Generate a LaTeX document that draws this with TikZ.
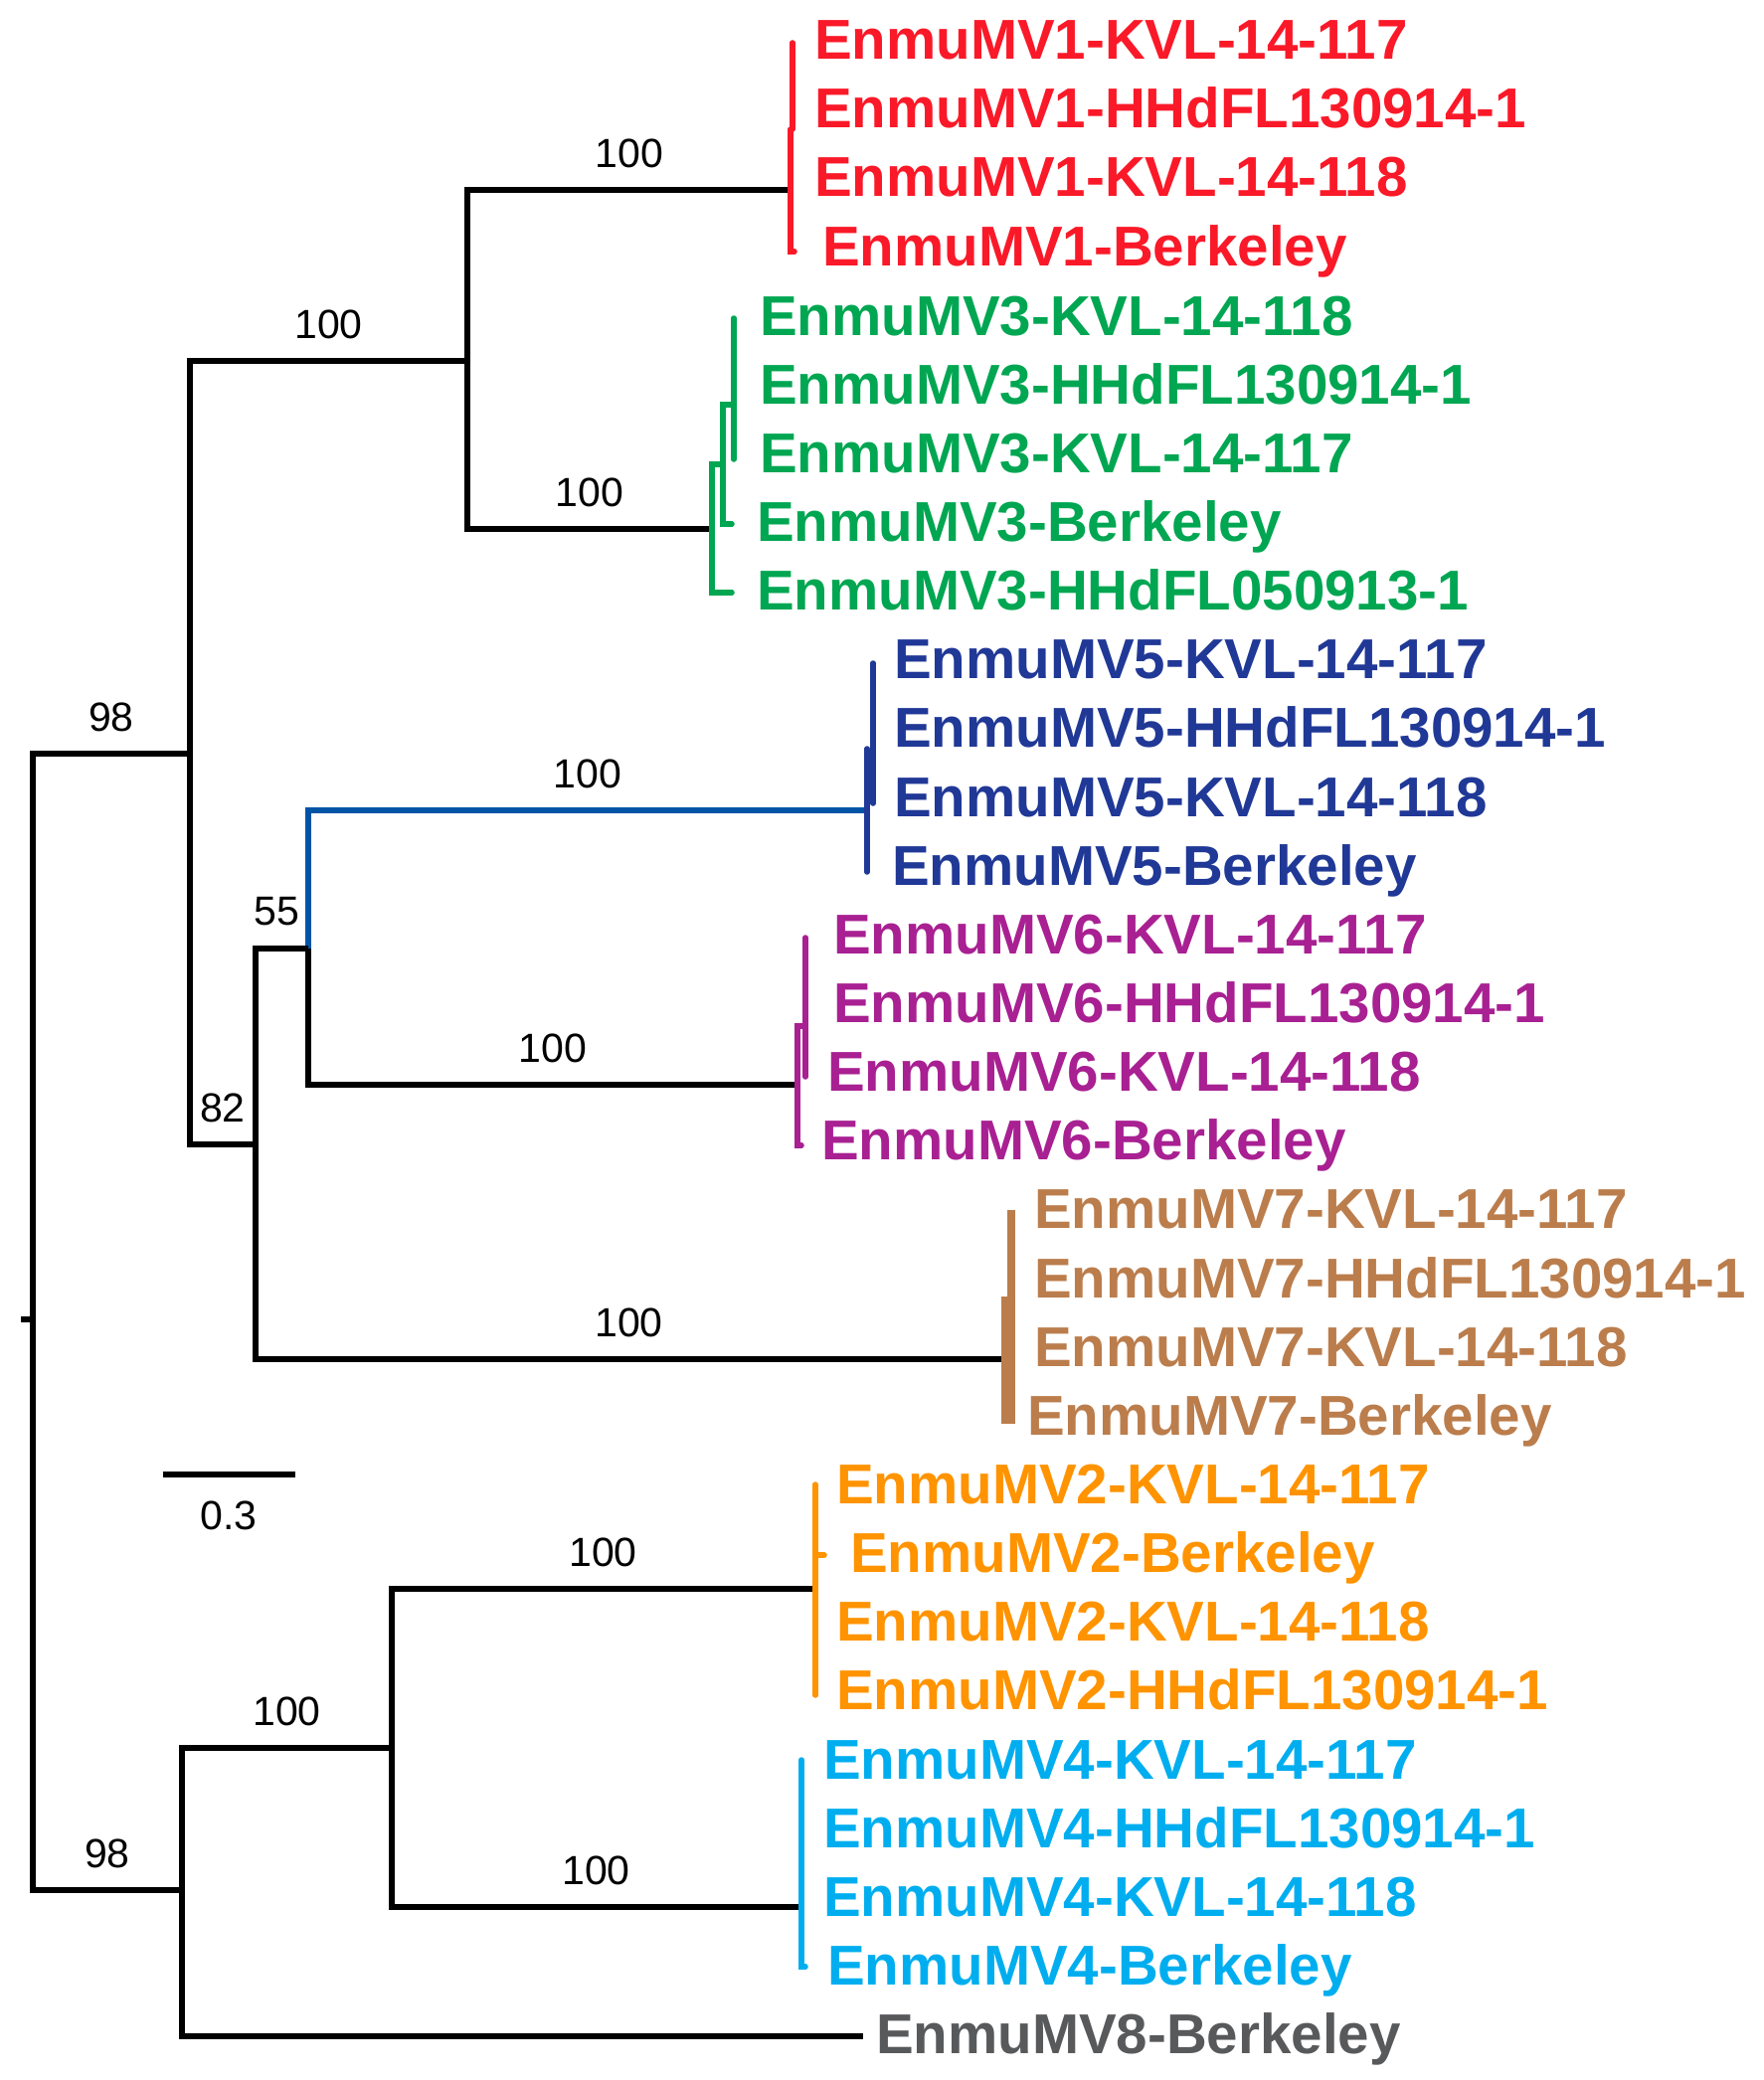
\documentclass[tikz,border=0pt]{standalone}
\usepackage{fontspec}
\setmainfont{Liberation Sans}
\definecolor{cred}{RGB}{250,25,40}
\definecolor{cgreen}{RGB}{0,166,81}
\definecolor{cnavy}{RGB}{32,56,150}
\definecolor{cblue}{RGB}{0,84,166}
\definecolor{cpurple}{RGB}{168,32,146}
\definecolor{cbrown}{RGB}{187,125,76}
\definecolor{corange}{RGB}{255,147,0}
\definecolor{ccyan}{RGB}{0,174,239}
\definecolor{cgrey}{RGB}{88,89,91}
\begin{document}
\begin{tikzpicture}[x=1pt,y=-1pt,
  br/.style={line width=5.5pt, line join=miter},
  cl/.style={line width=5.5pt, line cap=round, draw=#1},
  bs/.style={pos=0.75, yshift=37pt, inner sep=0pt, font=\fontsize{41}{46}\selectfont},
  leaf/.style={anchor=base west, inner sep=0pt, text=#1, font=\bfseries\fontsize{56.5}{60}\selectfont}]
\useasboundingbox (0,0) rectangle (1773,2092);
% internal nodes
\coordinate (R) at (33,1327);
\coordinate (stub) at (21,1327);
\coordinate (A) at (191,758);
\coordinate (B) at (470,363);
\coordinate (C) at (257,1151);
\coordinate (D) at (310,954);
\coordinate (E) at (183,1901);
\coordinate (F) at (394,1758);
\coordinate (m1) at (796,191);
\coordinate (m3) at (716,532);
\coordinate (m5) at (872,815);
\coordinate (m6) at (802,1091);
\coordinate (m7) at (1008,1367);
\coordinate (m2) at (819,1598);
\coordinate (m4) at (805,1918);
\coordinate (m8) at (868,2048);
% backbone
\draw[br] (stub) -- (R);
\draw[br] (R) |- (A) node[bs] (b1) {98};
\draw[br] (R) |- (E) node[bs] (b2) {98};
\draw[br] (A) |- (B) node[bs] (b3) {100};
\draw[br] (A) |- (C) node[bs] (b4) {82};
\draw[br] (B) |- (m1) node[bs] (b5) {100};
\draw[br] (B) |- (m3) node[bs] (b6) {100};
\draw[br, draw=cblue] (D) |- (m5) node[bs, text=black] (b7) {100};
\draw[br] (C) |- (D) node[bs, xshift=-5pt] (b8) {55};
\draw[br] (D) |- (m6) node[bs] (b9) {100};
\draw[br] (C) |- (m7) node[bs] (b10) {100};
\draw[br] (E) |- (F) node[bs] (b11) {100};
\draw[br] (E) |- (m8);
\draw[br] (F) |- (m2) node[bs] (b12) {100};
\draw[br] (F) |- (m4) node[bs] (b13) {100};
% clade internals
\draw[cl=cred] (797,43) -- (797,130);
\draw[cl=cred] (795,130) -- (795,253) -- (799,253);
\draw[cl=cgreen] (736,596) -- (716,596) -- (716,467) -- (727,467);
\draw[cl=cgreen] (736,527) -- (727,527) -- (727,407) -- (738,407);
\draw[cl=cgreen] (738,320) -- (738,462);
\draw[cl=cnavy] (872,753) -- (872,877);
\draw[cl=cnavy] (878,667) -- (878,808);
\draw[cl=cpurple] (806,1152) -- (802,1152) -- (802,1032) -- (810,1032);
\draw[cl=cpurple] (810,943) -- (810,1083);
\draw[cl=cbrown, line cap=butt, line width=8pt] (1011,1304) -- (1011,1432);
\draw[cl=cbrown, line cap=butt, line width=8pt] (1017,1217) -- (1017,1432);
\draw[cl=corange] (820,1493) -- (820,1705);
\draw[cl=corange] (820,1564) -- (829,1564);
\draw[cl=ccyan] (806,1770) -- (806,1978) -- (810,1978);
% scale bar
\coordinate (s1) at (164,1483);
\coordinate (s2) at (297,1483);
\draw[br] (s1) -- (s2);
\node[inner sep=0pt, font=\fontsize{41}{46}\selectfont] (sl) at (230,1524) {0.3};
% leaves
\node[leaf=cred] (l0) at (819,60) {EnmuMV1-KVL-14-117};
\node[leaf=cred] (l1) at (819,129) {EnmuMV1-HHdFL130914-1};
\node[leaf=cred] (l2) at (819,198) {EnmuMV1-KVL-14-118};
\node[leaf=cred] (l3) at (827,267) {EnmuMV1-Berkeley};
\node[leaf=cgreen] (l4) at (764,337) {EnmuMV3-KVL-14-118};
\node[leaf=cgreen] (l5) at (764,406) {EnmuMV3-HHdFL130914-1};
\node[leaf=cgreen] (l6) at (764,475) {EnmuMV3-KVL-14-117};
\node[leaf=cgreen] (l7) at (761,544) {EnmuMV3-Berkeley};
\node[leaf=cgreen] (l8) at (761,613) {EnmuMV3-HHdFL050913-1};
\node[leaf=cnavy] (l9) at (899,682) {EnmuMV5-KVL-14-117};
\node[leaf=cnavy] (l10) at (899,751) {EnmuMV5-HHdFL130914-1};
\node[leaf=cnavy] (l11) at (899,821) {EnmuMV5-KVL-14-118};
\node[leaf=cnavy] (l12) at (897,890) {EnmuMV5-Berkeley};
\node[leaf=cpurple] (l13) at (838,959) {EnmuMV6-KVL-14-117};
\node[leaf=cpurple] (l14) at (838,1028) {EnmuMV6-HHdFL130914-1};
\node[leaf=cpurple] (l15) at (832,1097) {EnmuMV6-KVL-14-118};
\node[leaf=cpurple] (l16) at (826,1166) {EnmuMV6-Berkeley};
\node[leaf=cbrown] (l17) at (1040,1235) {EnmuMV7-KVL-14-117};
\node[leaf=cbrown] (l18) at (1040,1305) {EnmuMV7-HHdFL130914-1};
\node[leaf=cbrown] (l19) at (1040,1374) {EnmuMV7-KVL-14-118};
\node[leaf=cbrown] (l20) at (1033,1443) {EnmuMV7-Berkeley};
\node[leaf=corange] (l21) at (841,1512) {EnmuMV2-KVL-14-117};
\node[leaf=corange] (l22) at (855,1581) {EnmuMV2-Berkeley};
\node[leaf=corange] (l23) at (841,1650) {EnmuMV2-KVL-14-118};
\node[leaf=corange] (l24) at (841,1719) {EnmuMV2-HHdFL130914-1};
\node[leaf=ccyan] (l25) at (828,1789) {EnmuMV4-KVL-14-117};
\node[leaf=ccyan] (l26) at (828,1858) {EnmuMV4-HHdFL130914-1};
\node[leaf=ccyan] (l27) at (828,1927) {EnmuMV4-KVL-14-118};
\node[leaf=ccyan] (l28) at (832,1996) {EnmuMV4-Berkeley};
\node[leaf=cgrey] (l29) at (881,2065) {EnmuMV8-Berkeley};
\end{tikzpicture}
\end{document}
